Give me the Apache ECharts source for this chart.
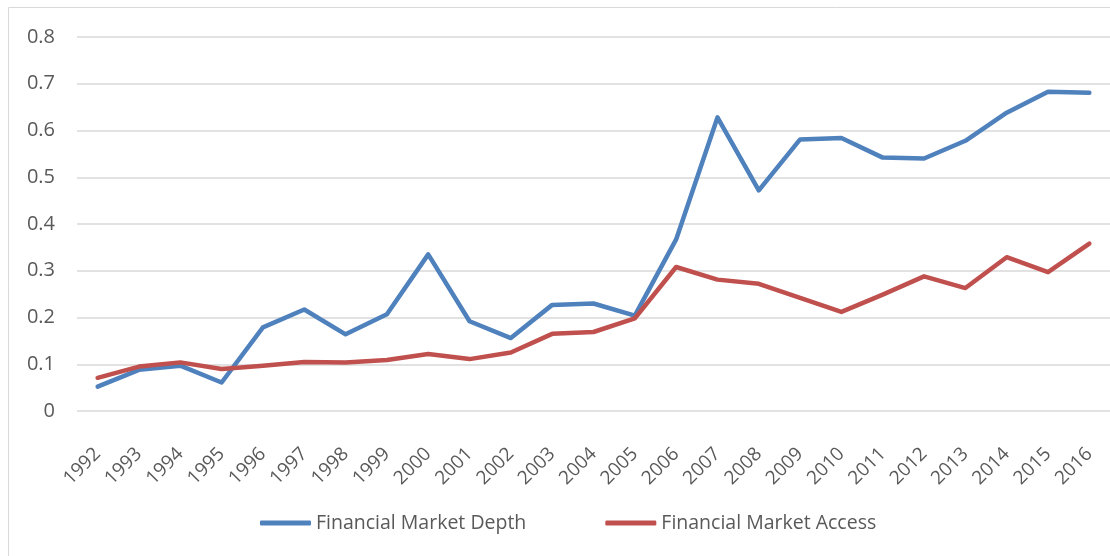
<!DOCTYPE html>
<html>
<head>
<meta charset="utf-8">
<script src="https://cdn.jsdelivr.net/npm/echarts@6/dist/echarts.min.js"></script>
<style>
  html, body { margin: 0; padding: 0; background: #fff; }
  #chart { width: 1110px; height: 556px; }
</style>
</head>
<body>
<div id="chart"></div>
<script>
const years = ['1992', '1993', '1994', '1995', '1996', '1997', '1998', '1999', '2000', '2001', '2002', '2003',
    '2004', '2005', '2006', '2007', '2008', '2009', '2010', '2011', '2012', '2013', '2014', '2015', '2016'];
const marketDepth = [0.052, 0.088, 0.097, 0.061, 0.179, 0.217, 0.164, 0.207, 0.335, 0.192, 0.156, 0.227,
    0.230, 0.204, 0.367, 0.628, 0.472, 0.581, 0.584, 0.542, 0.540, 0.578, 0.638, 0.683, 0.681];
const marketAccess = [0.071, 0.095, 0.104, 0.090, 0.097, 0.105, 0.104, 0.109, 0.122, 0.111, 0.125, 0.165,
    0.169, 0.198, 0.308, 0.281, 0.272, 0.242, 0.212, 0.249, 0.288, 0.263, 0.329, 0.297, 0.358];

const font = '"Open Sans", sans-serif';
const textColor = '#595959';

const chart = echarts.init(document.getElementById('chart'));
const option = {
    animation: false,
    backgroundColor: '#fff',
    graphic: [
        {
            // outer chart frame (right/bottom sides fall outside the picture)
            type: 'rect',
            shape: { x: 8.5, y: 7.5, width: 1130, height: 570 },
            style: { fill: 'none', stroke: '#d9d9d9', lineWidth: 1 },
            silent: true
        }
    ],
    grid: {
        left: 77,
        right: -12,
        top: 37,
        bottom: 145
    },
    legend: {
        top: 508,
        left: 255,
        icon: 'roundRect',
        itemWidth: 51,
        itemHeight: 5,
        itemGap: 79,
        textStyle: { color: textColor, fontFamily: font, fontSize: 19.5 },
        data: ['Financial Market Depth', 'Financial Market Access']
    },
    xAxis: {
        type: 'category',
        data: years,
        boundaryGap: true,
        axisLine: { show: false },
        axisTick: { show: false },
        axisLabel: {
            rotate: 45,
            margin: 40,
            interval: 0,
            color: textColor,
            fontFamily: font,
            fontSize: 19
        }
    },
    yAxis: {
        type: 'value',
        min: 0,
        max: 0.8,
        interval: 0.1,
        axisLine: { show: false },
        axisTick: { show: false },
        splitLine: { lineStyle: { color: '#d9d9d9', width: 1.5 } },
        axisLabel: {
            margin: 22,
            color: textColor,
            fontFamily: font,
            fontSize: 20,
            formatter: function (v) {
                return v === 0 ? '0' : v.toFixed(1);
            }
        }
    },
    series: [
        {
            name: 'Financial Market Depth',
            type: 'line',
            data: marketDepth,
            symbol: 'none',
            lineStyle: { color: '#4f81bd', width: 4.5, cap: 'round', join: 'round' },
            itemStyle: { color: '#4f81bd' }
        },
        {
            name: 'Financial Market Access',
            type: 'line',
            data: marketAccess,
            symbol: 'none',
            lineStyle: { color: '#c0504d', width: 4.5, cap: 'round', join: 'round' },
            itemStyle: { color: '#c0504d' }
        }
    ]
};
chart.setOption(option);
</script>
</body>
</html>
